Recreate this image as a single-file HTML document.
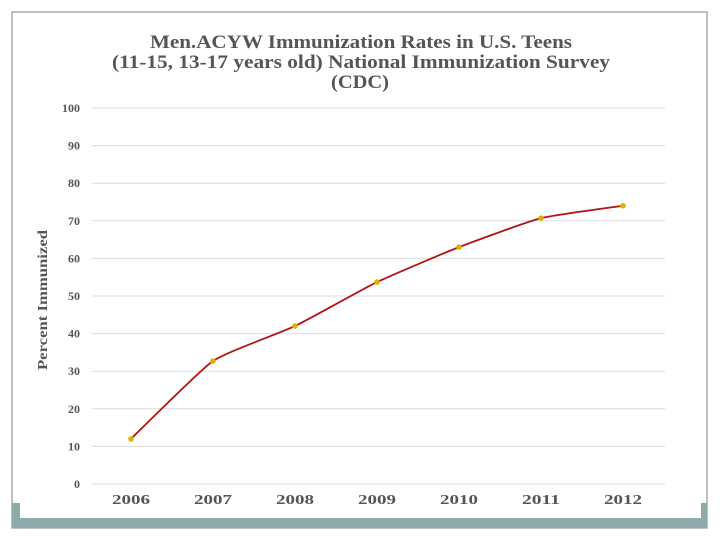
<!DOCTYPE html>
<html><head><meta charset="utf-8"><style>
body{margin:0;background:#fff;width:720px;height:540px;overflow:hidden}
svg{display:block;font-family:"Liberation Serif",serif}
</style></head><body>
<svg width="720" height="540" viewBox="0 0 720 540">
<rect x="12" y="12" width="695" height="516" fill="#fff" stroke="#8a9a9a" stroke-width="1.2"/>
<path d="M12 503 H20 V518 H701 V503 H707 V528 H12 Z" fill="#8eaaab"/>
<g font-weight="bold" fill="#555" font-size="18.5" text-anchor="middle">
<text x="361" y="48" textLength="422" lengthAdjust="spacingAndGlyphs">Men.ACYW Immunization Rates in U.S. Teens</text>
<text x="361" y="68" textLength="498" lengthAdjust="spacingAndGlyphs">(11-15, 13-17 years old) National Immunization Survey</text>
<text x="360" y="88" textLength="58" lengthAdjust="spacingAndGlyphs">(CDC)</text>
</g>
<text transform="translate(47,300) rotate(-90)" text-anchor="middle" font-weight="bold" font-size="14" fill="#555" textLength="140" lengthAdjust="spacingAndGlyphs">Percent Immunized</text>
<g id="grid"></g><g id="ylab"></g><g id="xlab"></g><g id="series"></g>
</svg>
<script>
const categories=["2006","2007","2008","2009","2010","2011","2012"];
const values=[12.0,32.7,42.0,53.7,63.0,70.7,74.0];
const yTicks=[0,10,20,30,40,50,60,70,80,90,100];
const ns="http://www.w3.org/2000/svg";
const x0=92,x1=665,yTop=108,yBot=484;
const xs=i=>131+i*(623-131)/(categories.length-1);
const ys=v=>yBot-(v/100)*(yBot-yTop);
function mk(t,a,p){const e=document.createElementNS(ns,t);for(const k in a)e.setAttribute(k,a[k]);p.appendChild(e);return e;}
const grid=document.getElementById('grid'),yl=document.getElementById('ylab'),xl=document.getElementById('xlab'),se=document.getElementById('series');
yTicks.forEach(t=>{
 const l=mk('line',{x1:x0,x2:x1,y1:ys(t),y2:ys(t),stroke:'#dcdcdc','stroke-width':1},grid);
 
 
 const tx=mk('text',{x:80,y:ys(t)+4,'text-anchor':'end','font-size':12,'font-weight':'bold',fill:'#555'},yl);
 tx.textContent=t;
 
 
});
categories.forEach((c,i)=>{
 const tx=mk('text',{x:xs(i),y:504,'text-anchor':'middle','font-size':14,'font-weight':'bold',fill:'#555',textLength:38,lengthAdjust:'spacingAndGlyphs'},xl);
 tx.textContent=c;
 
 
});
const pts=values.map((v,i)=>[xs(i),ys(v)]);
let d='M'+pts[0][0]+' '+pts[0][1];
for(let i=0;i<pts.length-1;i++){
 const p0=pts[i-1]||pts[i],p1=pts[i],p2=pts[i+1],p3=pts[i+2]||p2,k=0.08;
 d+=` C${p1[0]+(p2[0]-p0[0])*k} ${p1[1]+(p2[1]-p0[1])*k} ${p2[0]-(p3[0]-p1[0])*k} ${p2[1]-(p3[1]-p1[1])*k} ${p2[0]} ${p2[1]}`;
}
const line=mk('path',{d:d,fill:'none',stroke:'#b01515','stroke-width':1.8},se);


pts.forEach((p,i)=>{
 const c=mk('circle',{cx:p[0],cy:p[1],r:2.8,fill:'#d9b400'},se);
 
 
});
</script>
</body></html>
